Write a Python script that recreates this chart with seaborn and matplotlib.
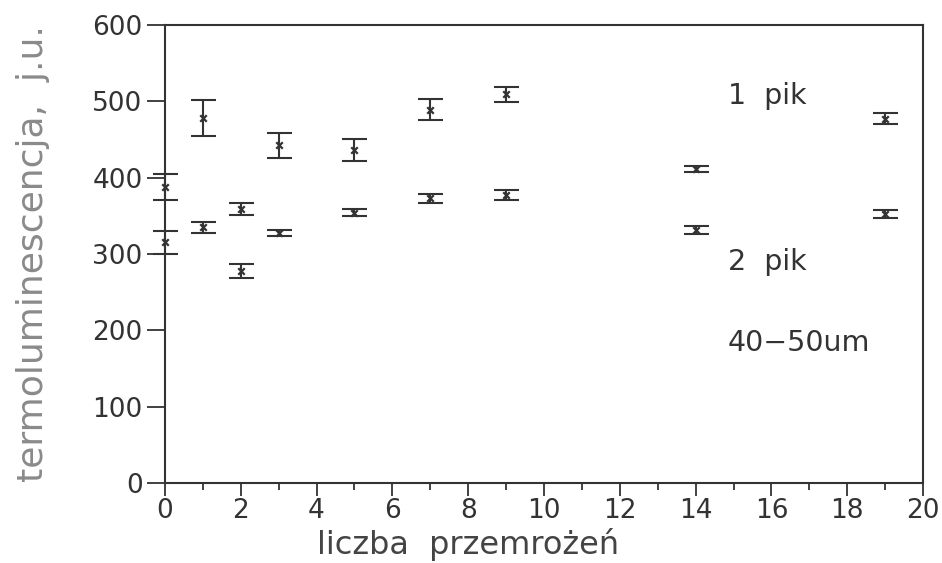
# Termoluminescencja vs liczba przemrożeń (40-50um)

import pandas as pd
import matplotlib.pyplot as plt
import seaborn as sns

# data
cycles = [0, 1, 2, 3, 5, 7, 9, 14, 19]
pik1 = [387, 478, 359, 442, 436, 489, 509, 411, 477]
pik1_err = [17, 23, 8, 16, 14, 14, 10, 4, 7]
pik2 = [315, 335, 278, 327, 354, 373, 377, 331, 352]
pik2_err = [15, 7, 9, 4, 5, 6, 7, 5, 5]

df = pd.concat([
    pd.DataFrame({"cykle": cycles, "tl": pik1, "err": pik1_err, "pik": "1 pik"}),
    pd.DataFrame({"cykle": cycles, "tl": pik2, "err": pik2_err, "pik": "2 pik"}),
], ignore_index=True)

sns.set_theme(style="ticks")
plt.rcParams["font.family"] = ["DejaVu Sans"]

ink = "#333333"

fig, ax = plt.subplots(figsize=(9.42, 5.63), dpi=100)
fig.subplots_adjust(left=0.175, right=0.980, top=0.956, bottom=0.142)

# error bars
ax.errorbar(df["cykle"], df["tl"], yerr=df["err"], fmt="none", ecolor=ink,
            elinewidth=1.5, capsize=9, capthick=1.5, clip_on=False, zorder=3)
# points
sns.scatterplot(data=df, x="cykle", y="tl", marker="x", color=ink, s=22,
                linewidth=1.6, legend=False, ax=ax, zorder=4, clip_on=False)

ax.set_xlim(0, 20)
ax.set_ylim(0, 600)
ax.set_xticks(range(0, 21, 2))
ax.set_xticks(range(1, 20, 2), minor=True)
ax.set_yticks(range(0, 601, 100))

for s in ax.spines.values():
    s.set_visible(True)
    s.set_linewidth(1.5)
    s.set_color(ink)

ax.tick_params(axis="x", which="major", length=9, width=1.3, direction="out",
               labelsize=19, colors=ink, pad=2)
ax.tick_params(axis="x", which="minor", length=5, width=1.3, direction="out", colors=ink)
ax.tick_params(axis="y", length=13, width=1.3, direction="out",
               labelsize=19, colors=ink, pad=3)

ax.set_ylabel("termoluminescencja,  j.u.", fontsize=26, color="#8a8a8a")
ax.yaxis.set_label_coords(-0.152, 0.5)
ax.set_xlabel("liczba  przemrożeń", fontsize=23, color="#444444")
ax.xaxis.set_label_coords(0.40, -0.135)
ax.xaxis.label.set_va("center")

# annotations
ax.text(14.85, 507, "1  pik", fontsize=20.5, color=ink, va="center")
ax.text(14.85, 289, "2  pik", fontsize=20.5, color=ink, va="center")
ax.text(14.85, 183, "40\u221250um", fontsize=20.5, color=ink, va="center")

fig.savefig("out.png", dpi=100)
